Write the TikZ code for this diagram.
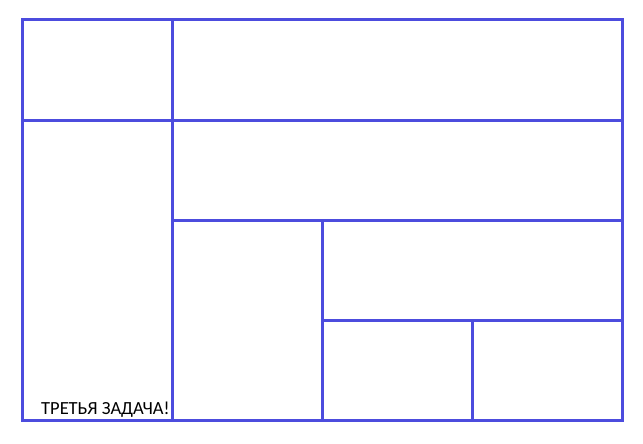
\documentclass[tikz,border=0pt]{standalone}
\usepackage{fontspec}
\setmainfont{Carlito}
\usepackage{tikz}
\definecolor{gridblue}{RGB}{76,76,222}

\begin{document}
\begin{tikzpicture}[x=1pt,y=-1pt]
         \useasboundingbox (0,0) rectangle (643,444);
         \draw[gridblue, line width=3pt] (22,20) rectangle (622,420);
         \draw[gridblue, line width=3pt] (22,120) -- (622,120);
         \draw[gridblue, line width=3pt] (172,20) -- (172,420);
         \draw[gridblue, line width=3pt] (172,220) -- (622,220);
         \draw[gridblue, line width=3pt] (322,220) -- (322,420);
         \draw[gridblue, line width=3pt] (322,320) -- (622,320);
         \draw[gridblue, line width=3pt] (472,320) -- (472,420);

         \node[anchor=base west, inner sep=0pt, font=\fontsize{18.5}{22}\selectfont] (title) at (41,414) {ТРЕТЬЯ ЗАДАЧА!};
    \end{tikzpicture}
\end{document}
